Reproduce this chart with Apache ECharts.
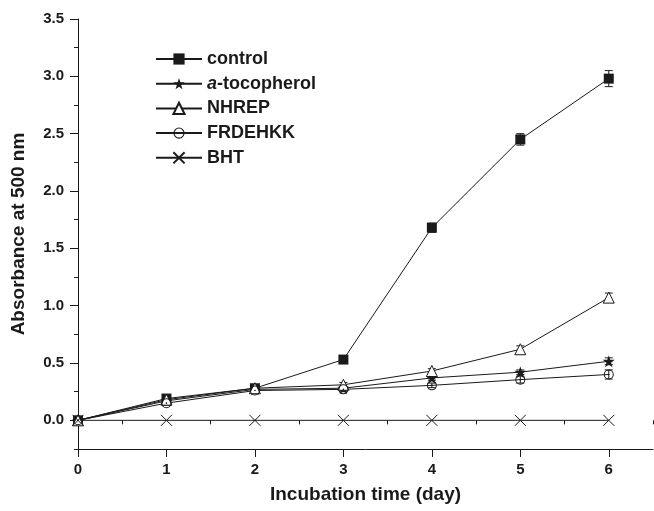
<!DOCTYPE html>
<html>
<head>
<meta charset="utf-8">
<script src="https://cdn.jsdelivr.net/npm/echarts@6/dist/echarts.min.js"></script>
<style>
  html, body { margin: 0; padding: 0; background: #fff; }
  #container { width: 654px; height: 511px; }
</style>
</head>
<body>
<div id="container"></div>
<script>
var days = [0, 1, 2, 3, 4, 5, 6];
var control = [0, 0.19, 0.28, 0.53, 1.68, 2.45, 2.98];
var tocopherol = [0, 0.17, 0.27, 0.28, 0.37, 0.42, 0.515];
var nhrep = [0, 0.18, 0.28, 0.31, 0.43, 0.62, 1.07];
var frdehkk = [0, 0.15, 0.26, 0.27, 0.305, 0.355, 0.40];
var bht = [0, 0, 0, 0, 0, 0, 0];

var controlErr = [0, 0.02, 0.02, 0.02, 0.04, 0.05, 0.07];
var tocopherolErr = [0, 0.01, 0.01, 0.01, 0.02, 0.02, 0.03];
var nhrepErr = [0, 0.01, 0.01, 0.02, 0.02, 0.03, 0.04];
var frdehkkErr = [0, 0.02, 0.01, 0.02, 0.02, 0.03, 0.04];

var xMajorTicks = [0, 1, 2, 3, 4, 5, 6];
var xMinorTicks = [0.5, 1.5, 2.5, 3.5, 4.5, 5.5, 6.5];
var yMajorTicks = [0, 0.5, 1, 1.5, 2, 2.5, 3, 3.5];
var yMinorTicks = [-0.25, 0.25, 0.75, 1.25, 1.75, 2.25, 2.75, 3.25];

var dom = document.getElementById("container");
var myChart = echarts.init(dom, null, { renderer: "canvas" });

var ink = "#1a1a1a";
var font = "Liberation Sans";

// symbols
var starPath = "path://M5,0 L6.18,3.62 L10,3.62 L6.91,5.86 L8.09,9.5 L5,7.24 L1.91,9.5 L3.09,5.86 L0,3.62 L3.82,3.62 Z";
var ringDotPath = "path://M0,5 A5,5 0 1,1 10,5 A5,5 0 1,1 0,5 Z M1,5 A4,4 0 1,0 9,5 A4,4 0 1,0 1,5 Z M4.2,5 A0.8,0.8 0 1,1 5.8,5 A0.8,0.8 0 1,1 4.2,5 Z";
var crossPath = "path://M0,0 L10,10 M10,0 L0,10";

function pairs(vals) {
  return days.map(function (d, i) { return [d, vals[i]]; });
}

function errData(vals, errs) {
  var out = [];
  days.forEach(function (d, i) {
    if (errs[i] > 0) out.push([d, vals[i], errs[i]]);
  });
  return out;
}

var errorPoints = []
  .concat(errData(control, controlErr))
  .concat(errData(tocopherol, tocopherolErr))
  .concat(errData(nhrep, nhrepErr))
  .concat(errData(frdehkk, frdehkkErr));

function lineSeries(name, vals, symbol, size, itemStyle) {
  return {
    name: name,
    type: "line",
    data: pairs(vals),
    symbol: symbol,
    symbolSize: size,
    showAllSymbol: true,
    lineStyle: { color: ink, width: 1 },
    itemStyle: itemStyle,
    emphasis: { disabled: true },
    z: 3,
  };
}

var option = {
  animation: false,
  backgroundColor: "#fff",
  grid: { left: 78, right: 1, top: 19, bottom: 62, containLabel: false },
  legend: {
    orient: "vertical",
    left: 155,
    top: 50,
    padding: 0,
    itemWidth: 46,
    itemHeight: 14,
    itemGap: 6.7,
    data: ["control", "a-tocopherol", "NHREP", "FRDEHKK", "BHT"],
    textStyle: {
      fontFamily: font,
      fontSize: 18,
      fontWeight: "bold",
      color: ink,
      rich: {
        i: { fontFamily: font, fontSize: 18, fontWeight: "bold", fontStyle: "italic", color: ink },
        n: { fontFamily: font, fontSize: 18, fontWeight: "bold", color: ink },
      },
    },
    formatter: function (name) {
      if (name === "a-tocopherol") return "{i|a}{n|-tocopherol}";
      return name;
    },
  },
  xAxis: [
    {
      type: "value",
      min: 0,
      max: 6.5,
      name: "Incubation time (day)",
      nameLocation: "middle",
      nameGap: 36,
      nameTextStyle: { fontFamily: font, fontSize: 19, fontWeight: "bold", color: ink },
      axisLine: { show: true, onZero: false, lineStyle: { color: ink, width: 1 } },
      axisTick: { show: true, length: 8, customValues: xMajorTicks, lineStyle: { color: ink } },
      axisLabel: {
        customValues: xMajorTicks,
        margin: 13,
        fontFamily: font,
        fontSize: 15,
        fontWeight: "bold",
        color: ink,
      },
      splitLine: { show: false },
    },
    {
      type: "value",
      position: "bottom",
      min: 0,
      max: 6.5,
      axisLine: { show: false },
      axisTick: { show: true, length: 4, customValues: xMinorTicks, lineStyle: { color: ink } },
      axisLabel: { show: false },
      splitLine: { show: false },
    },
  ],
  yAxis: [
    {
      type: "value",
      min: -0.25,
      max: 3.5,
      name: "Absorbance at 500 nm",
      nameLocation: "middle",
      nameGap: 50,
      nameTextStyle: { fontFamily: font, fontSize: 19, fontWeight: "bold", color: ink },
      axisLine: { show: true, onZero: false, lineStyle: { color: ink, width: 1 } },
      axisTick: { show: true, length: 8, customValues: yMajorTicks, lineStyle: { color: ink } },
      axisLabel: {
        customValues: yMajorTicks,
        margin: 14,
        fontFamily: font,
        fontSize: 15,
        fontWeight: "bold",
        color: ink,
        formatter: function (v) { return v.toFixed(1); },
      },
      splitLine: { show: false },
    },
    {
      type: "value",
      position: "left",
      min: -0.25,
      max: 3.5,
      axisLine: { show: false },
      axisTick: { show: true, length: 4, customValues: yMinorTicks, lineStyle: { color: ink } },
      axisLabel: { show: false },
      splitLine: { show: false },
    },
  ],
  series: [
    {
      name: "errors",
      type: "custom",
      data: errorPoints,
      z: 2,
      silent: true,
      renderItem: function (params, api) {
        var x = api.value(0), y = api.value(1), e = api.value(2);
        var top = api.coord([x, y + e]);
        var bot = api.coord([x, y - e]);
        var cap = 4;
        var style = { stroke: ink, lineWidth: 1 };
        return {
          type: "group",
          children: [
            { type: "line", shape: { x1: top[0], y1: top[1], x2: bot[0], y2: bot[1] }, style: style },
            { type: "line", shape: { x1: top[0] - cap, y1: top[1], x2: top[0] + cap, y2: top[1] }, style: style },
            { type: "line", shape: { x1: bot[0] - cap, y1: bot[1], x2: bot[0] + cap, y2: bot[1] }, style: style },
          ],
        };
      },
    },
    lineSeries("control", control, "rect", 10, { color: ink }),
    lineSeries("a-tocopherol", tocopherol, starPath, 12, { color: ink }),
    lineSeries("NHREP", nhrep, "triangle", 11, { color: "#fff", borderColor: ink, borderWidth: 1 }),
    lineSeries("FRDEHKK", frdehkk, ringDotPath, 10, { color: ink }),
    lineSeries("BHT", bht, crossPath, 11, { color: "none", borderColor: ink, borderWidth: 1 }),
  ],
};

myChart.setOption(option);
window.addEventListener("resize", myChart.resize);
</script>
</body>
</html>
